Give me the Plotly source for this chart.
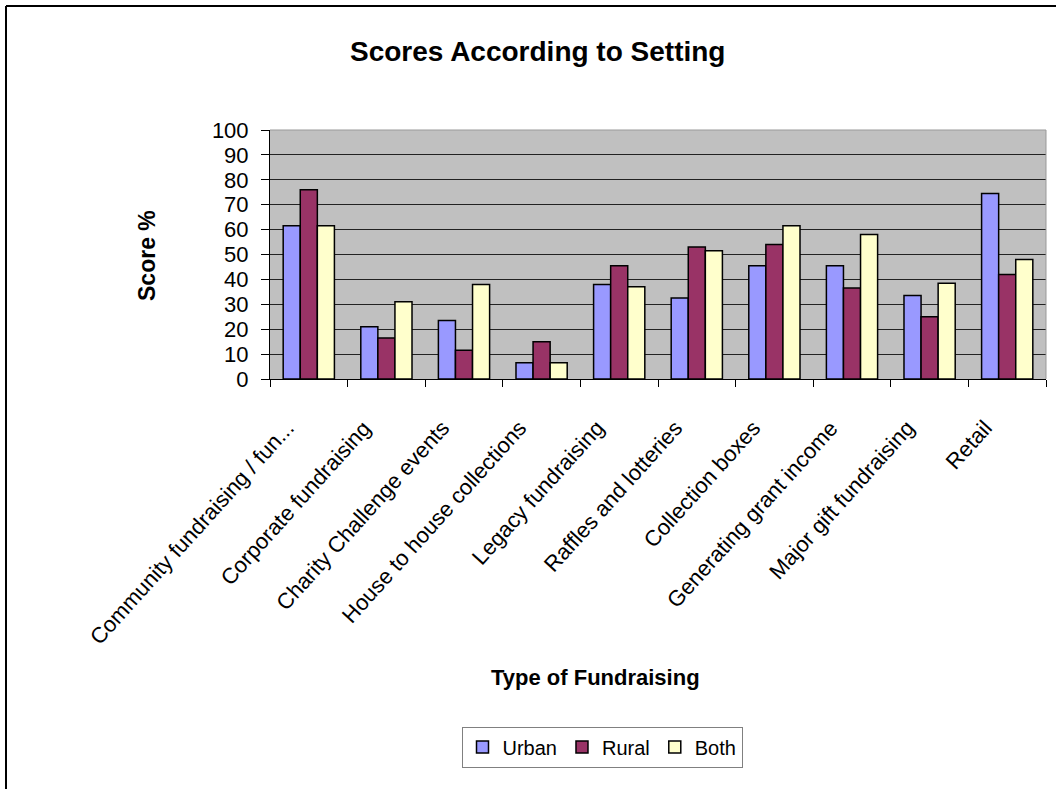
import plotly.graph_objects as go

categories = [
    "Community fundraising / fun...",
    "Corporate fundraising",
    "Charity Challenge events",
    "House to house collections",
    "Legacy fundraising",
    "Raffles and lotteries",
    "Collection boxes",
    "Generating grant income",
    "Major gift fundraising",
    "Retail",
]
urban = [61.5, 21, 23.5, 6.5, 38, 32.5, 45.5, 45.5, 33.5, 74.5]
rural = [76, 16.5, 11.5, 15, 45.5, 53, 54, 36.5, 25, 42]
both = [61.5, 31, 38, 6.5, 37, 51.5, 61.5, 58, 38.5, 48]

series = [("Urban", urban, "#9999FF"), ("Rural", rural, "#993366"), ("Both", both, "#FFFFCC")]

FONT = "Liberation Sans, Arial, sans-serif"

fig = go.Figure()
for name, vals, col in series:
    fig.add_trace(go.Bar(
        x=categories, y=vals, name=name,
        marker=dict(color=col, line=dict(color="black", width=1.5)),
    ))

# plot area: x 270..1046, y 130..379
def px(x):
    return (x - 270) / 776.0

def py(y):
    return (379 - y) / 249.0

# category tick labels placed under each category, rotated
tick_annotations = [
    dict(text=c, xref="x", yref="paper", x=i, y=py(413), xanchor="right", yanchor="top",
         xshift=-7, textangle=-48, showarrow=False, font=dict(size=22, family=FONT))
    for i, c in enumerate(categories)
]

fig.update_layout(
    width=1056, height=789,
    margin=dict(l=270, r=10, t=130, b=410),
    paper_bgcolor="white",
    plot_bgcolor="#C0C0C0",
    barmode="group",
    bargap=0.34,
    bargroupgap=0,
    font=dict(family=FONT, color="black", size=21),
    showlegend=True,
    legend=dict(
        orientation="h", x=px(602), y=py(747), xanchor="center", yanchor="middle",
        bordercolor="#808080", borderwidth=1, bgcolor="white",
        font=dict(size=20, family=FONT), itemwidth=30, tracegroupgap=0,
    ),
    xaxis=dict(
        type="category", categoryorder="array", categoryarray=categories,
        range=[-0.5, len(categories) - 0.5], autorange=False,
        tickson="boundaries", ticks="outside", showticklabels=False,
        ticklen=7, tickcolor="black", showline=True, linecolor="black", linewidth=1,
        showgrid=False,
    ),
    yaxis=dict(
        range=[0, 100], dtick=10, ticks="outside", ticklen=8, tickcolor="black",
        showline=True, linecolor="black", linewidth=1,
        showgrid=True, gridcolor="#222222", gridwidth=1,
        tickfont=dict(size=22, family=FONT), zeroline=False, ticklabelstandoff=8,
    ),
    annotations=[
        dict(text="<b>Scores According to Setting</b>", xref="paper", yref="paper",
             x=px(537), y=py(51), xanchor="center", yanchor="middle", showarrow=False,
             font=dict(size=28, family=FONT)),
        dict(text="<b>Score %</b>", xref="paper", yref="paper", textangle=-90,
             x=px(147), y=py(256), xanchor="center", yanchor="middle", showarrow=False,
             font=dict(size=23, family=FONT)),
        dict(text="<b>Type of Fundraising</b>", xref="paper", yref="paper",
             x=px(595), y=py(677), xanchor="center", yanchor="middle", showarrow=False,
             font=dict(size=22, family=FONT)),
    ] + tick_annotations,
    shapes=[
        # plot border (top/right gray)
        dict(type="line", xref="paper", yref="paper", x0=0, x1=1, y0=1, y1=1,
             line=dict(color="#999999", width=1)),
        dict(type="line", xref="paper", yref="paper", x0=1, x1=1, y0=0, y1=1,
             line=dict(color="#999999", width=1)),
        # outer chart frame (top & left)
        dict(type="line", xref="paper", yref="paper", x0=px(6), x1=px(1070), y0=py(6), y1=py(6),
             line=dict(color="black", width=2)),
        dict(type="line", xref="paper", yref="paper", x0=px(6), x1=px(6), y0=py(6), y1=py(800),
             line=dict(color="black", width=2)),
    ],
)

fig.write_html("out.html")
